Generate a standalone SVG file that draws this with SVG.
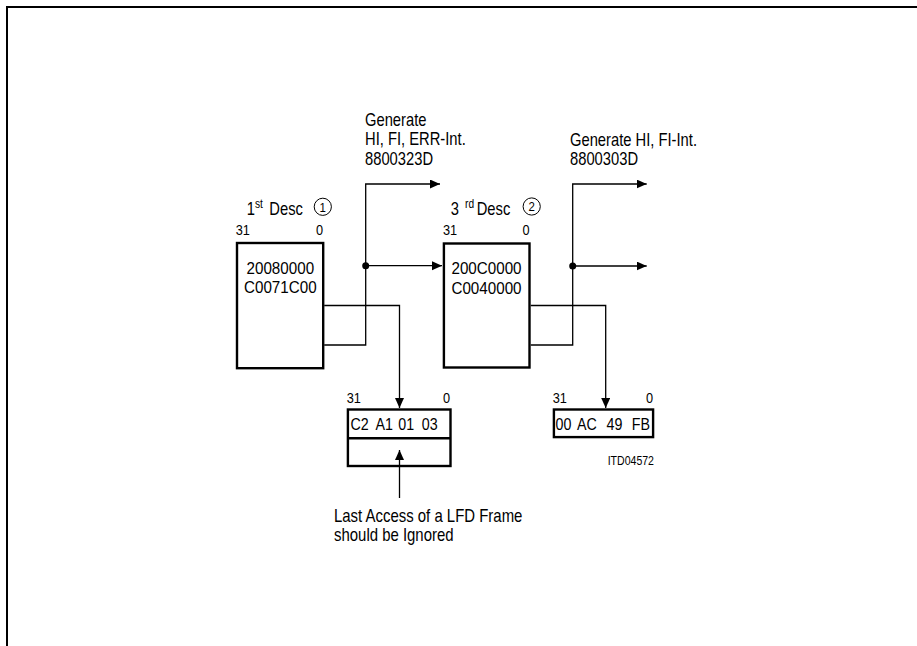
<svg xmlns="http://www.w3.org/2000/svg" width="917" height="646" viewBox="0 0 917 646">
<defs>
<style>
text{font-family:"Liberation Sans",Arial,sans-serif;fill:#000}
.t18{font-size:18px}
.t16{font-size:16px}
.t17{font-size:17px}
.t14{font-size:15px}
.t12{font-size:12px}
.t13{font-size:13.5px}
.e{text-anchor:end}
.m{text-anchor:middle}
.box{fill:#fff;stroke:#000;stroke-width:2.4}
.ln{fill:none;stroke:#000;stroke-width:1.3}
.frame{fill:none;stroke:#000;stroke-width:2}
.circ{fill:none;stroke:#000;stroke-width:1}
</style>
<marker id="ah" markerUnits="userSpaceOnUse" markerWidth="11" markerHeight="10" refX="10" refY="4.5" orient="auto">
<path d="M0,0 L10,4.5 L0,9 z" fill="#000"/>
</marker>
</defs>
<rect width="917" height="646" fill="#fff"/>
<path class="frame" d="M7,646 V7 H917"/>

<g id="label-gen1">
<text class="t18" transform="translate(365,126) scale(0.82,1)">Generate</text>
<text class="t18" transform="translate(365,145.3) scale(0.82,1)">HI, FI, ERR-Int.</text>
<text class="t18" transform="translate(365,164.5) scale(0.82,1)">8800323D</text>
</g>
<g id="label-gen2">
<text class="t18" transform="translate(570,146) scale(0.82,1)">Generate HI, FI-Int.</text>
<text class="t18" transform="translate(570,165) scale(0.82,1)">8800303D</text>
</g>

<g id="desc1">
<text class="t18" transform="translate(246.7,215) scale(0.82,1)">1</text>
<text class="t12" transform="translate(255,208) scale(0.85,1)">st</text>
<text class="t18" transform="translate(269.3,215) scale(0.82,1)">Desc</text>
<circle class="circ" cx="322.8" cy="206.8" r="8.6"/>
<text class="t13 m" transform="translate(322.8,211.5) scale(0.85,1)">1</text>
<text class="t14" transform="translate(235.7,235) scale(0.85,1)">31</text>
<text class="t14 e" transform="translate(323,235) scale(0.85,1)">0</text>
<rect class="box" x="237" y="243" width="86.2" height="125.2"/>
<text class="t16 m" transform="translate(280.3,273.5) scale(0.95,1)">20080000</text>
<text class="t16 m" transform="translate(280.3,293) scale(0.95,1)">C0071C00</text>
</g>

<g id="desc3">
<text class="t18" transform="translate(450.7,215) scale(0.82,1)">3</text>
<text class="t12" transform="translate(465,207.5) scale(0.85,1)">rd</text>
<text class="t18" transform="translate(476.7,215) scale(0.82,1)">Desc</text>
<circle class="circ" cx="531.7" cy="206.5" r="8.6"/>
<text class="t13 m" transform="translate(531.7,211.2) scale(0.85,1)">2</text>
<text class="t14" transform="translate(443,235) scale(0.85,1)">31</text>
<text class="t14 e" transform="translate(529.5,235) scale(0.85,1)">0</text>
<rect class="box" x="443.9" y="243.5" width="85.6" height="124"/>
<text class="t16 m" transform="translate(486.5,274) scale(0.95,1)">200C0000</text>
<text class="t16 m" transform="translate(486.5,293.5) scale(0.95,1)">C0040000</text>
</g>

<g id="buffer1">
<text class="t14" transform="translate(346.7,402.5) scale(0.85,1)">31</text>
<text class="t14 e" transform="translate(450,402.5) scale(0.85,1)">0</text>
<rect class="box" x="347.9" y="409.5" width="102.6" height="56.5"/>
<line x1="347.9" y1="438.3" x2="450.5" y2="438.3" stroke="#000" stroke-width="2.4"/>
<text class="t17" transform="translate(350.5,430) scale(0.84,1)">C2</text>
<text class="t17" transform="translate(375.5,430) scale(0.84,1)">A1</text>
<text class="t17" transform="translate(398.3,430) scale(0.84,1)">01</text>
<text class="t17" transform="translate(421.7,430) scale(0.84,1)">03</text>
</g>

<g id="buffer2">
<text class="t14" transform="translate(552.7,402.5) scale(0.85,1)">31</text>
<text class="t14 e" transform="translate(653,402.5) scale(0.85,1)">0</text>
<rect class="box" x="553.9" y="409.5" width="99.2" height="27.6"/>
<text class="t17" transform="translate(555.5,430) scale(0.84,1)">00</text>
<text class="t17" transform="translate(577,430) scale(0.84,1)">AC</text>
<text class="t17" transform="translate(606.5,430) scale(0.84,1)">49</text>
<text class="t17" transform="translate(631.7,430) scale(0.84,1)">FB</text>
</g>

<g id="note">
<text class="t18" transform="translate(334,521.7) scale(0.83,1)">Last Access of a LFD Frame</text>
<text class="t18" transform="translate(334,540.5) scale(0.83,1)">should be Ignored</text>
</g>

<g id="figure-id">
<text class="t12 e" transform="translate(654,465) scale(0.88,1)">ITD04572</text>
</g>

<g id="connectors">
<path class="ln" d="M324.2,305.5 H399.5 V408" marker-end="url(#ah)"/>
<path class="ln" d="M324.2,345 H365.7 V184 H440" marker-end="url(#ah)"/>
<path class="ln" d="M365.7,265.7 H442" marker-end="url(#ah)"/>
<circle cx="365.7" cy="265.7" r="3.5" fill="#000"/>
<path class="ln" d="M530.7,305.5 H605.7 V408" marker-end="url(#ah)"/>
<path class="ln" d="M530.7,345 H572.7 V184 H646.7" marker-end="url(#ah)"/>
<path class="ln" d="M572.7,266 H646.7" marker-end="url(#ah)"/>
<circle cx="572.7" cy="266" r="3.5" fill="#000"/>
<path class="ln" d="M399.5,498 V450" marker-end="url(#ah)"/>
</g>
</svg>
